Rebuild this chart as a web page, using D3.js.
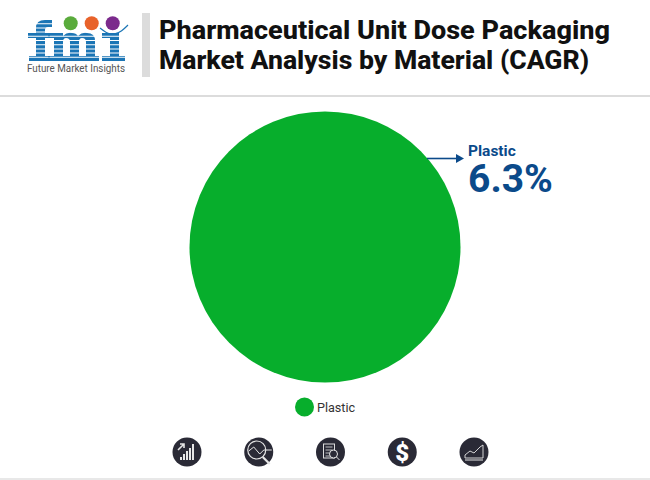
<!DOCTYPE html>
<html>
<head>
<meta charset="utf-8">
<script src="https://cdn.jsdelivr.net/npm/d3@7/dist/d3.min.js"></script>
<style>
html, body { margin: 0; padding: 0; background: #fff; }
svg { display: block; }
text { font-family: Roboto, sans-serif; }
</style>
</head>
<body>
<svg id="chart" width="650" height="480"></svg>
<script>
// chart data
const titleLines = ["Pharmaceutical Unit Dose Packaging", "Market Analysis by Material (CAGR)"];
const titleWidths = [451, 430];
const categories = ["Plastic"];
const shares = [100];
const cagrLabels = ["6.3%"];
const sliceColors = ["#07ae2c"];
const logoDots = ["#5aab3c", "#e8622a", "#7b2a8c"];
const iconNames = ["growth", "search", "report", "dollar", "area"];

const svg = d3.select("#chart");
const blue = "#0b4a8a";
const dark = "#2a2a36";
const grey = "#dcdcdc";

// header
svg.append("rect").attr("x", 142).attr("y", 13).attr("width", 8).attr("height", 64).attr("fill", grey);
svg.append("rect").attr("x", 0).attr("y", 95).attr("width", 650).attr("height", 2).attr("fill", grey);
svg.append("rect").attr("x", 0).attr("y", 478).attr("width", 650).attr("height", 2).attr("fill", "#e8e8e8");

svg.selectAll("text.title").data(titleLines).join("text")
    .attr("class", "title")
    .attr("x", 159)
    .attr("y", (d, i) => 39 + i * 30)
    .attr("font-size", 26)
    .attr("font-weight", 800)
    .attr("fill", "#111")
    .attr("textLength", (d, i) => titleWidths[i])
    .attr("lengthAdjust", "spacingAndGlyphs")
    .text(d => d);

// logo: block letters cut into horizontal stripes
const logoBlue = "#1b75b5";
const clip = svg.append("defs").append("clipPath").attr("id", "stripes");
d3.range(20, 62, 4.2).forEach(y => {
    clip.append("rect").attr("x", 20).attr("y", y).attr("width", 120).attr("height", 3.2);
});
const logo = svg.append("g");
const letters = logo.append("g").attr("clip-path", "url(#stripes)").attr("fill", logoBlue);
const letterPaths = [
    // f
    "M28,33 H36 V28 Q36,20 45,20 H52 V27 H48 Q45,27 45,30 V33 H50 V38 H45 V56 H50 V61 H29 V56 H36 V38 H28 Z",
    // m
    "M48,33 H63 V36 Q67,32 72,33 Q76,33 78,36 Q82,32 87,33 Q95,33 95,41 V56 H99 V61 H82 V56 H86 V42 Q86,38 82,38 Q79,38 79,42 V56 H83 V61 H66 V56 H70 V42 Q70,38 66,38 Q63,38 63,42 V56 H67 V61 H48 V56 H54 V38 H48 Z",
    // i
    "M102,33 H119 V56 H125 V61 H102 V56 H110 V38 H102 Z"
];
letters.selectAll("path").data(letterPaths).join("path").attr("d", d => d);

logo.selectAll("circle").data(logoDots).join("circle")
    .attr("cx", (d, i) => 70.7 + i * 21)
    .attr("cy", 23.3)
    .attr("r", 7)
    .attr("fill", d => d);
logo.append("path")
    .attr("d", d3.line().curve(d3.curveBasis)([[100, 28], [106, 33], [114, 35], [122, 31], [128, 25]]))
    .attr("fill", "none").attr("stroke", logoBlue).attr("stroke-width", 1.2);
logo.append("text")
    .attr("x", 27).attr("y", 72)
    .attr("font-size", 10)
    .attr("fill", "#555")
    .attr("textLength", 98)
    .attr("lengthAdjust", "spacingAndGlyphs")
    .text("Future Market Insights");

// pie
const pie = d3.pie().sort(null)(shares);
const arc = d3.arc().innerRadius(0).outerRadius(135.5);
svg.append("g").attr("transform", "translate(325,247)")
    .selectAll("path").data(pie).join("path")
    .attr("d", arc)
    .attr("fill", (d, i) => sliceColors[i]);

// callout
svg.append("line").attr("x1", 427).attr("y1", 158.5).attr("x2", 458).attr("y2", 158.5)
    .attr("stroke", blue).attr("stroke-width", 1.6);
svg.append("path").attr("d", "M456,154 L464,158.5 L456,163 Z").attr("fill", blue);
svg.append("text").attr("x", 468).attr("y", 156)
    .attr("font-size", 15.5).attr("font-weight", 700).attr("fill", blue)
    .text(categories[0]);
svg.append("text").attr("x", 468).attr("y", 192)
    .attr("font-size", 39).attr("font-weight", 700).attr("fill", blue)
    .text(cagrLabels[0]);

// legend
const legend = svg.append("g");
legend.selectAll("circle").data(categories).join("circle")
    .attr("cx", 304.5).attr("cy", 407).attr("r", 9.5)
    .attr("fill", (d, i) => sliceColors[i]);
legend.selectAll("text").data(categories).join("text")
    .attr("x", 317).attr("y", 412)
    .attr("font-size", 12.6).attr("fill", "#333")
    .text(d => d);

// footer icons
const iconX = d3.scalePoint().domain(iconNames).range([187, 474]);
const icons = svg.selectAll("g.icon").data(iconNames).join("g")
    .attr("class", "icon")
    .attr("transform", d => "translate(" + iconX(d) + ",452)");
icons.append("circle").attr("r", 14.5).attr("fill", dark);

icons.each(function (name) {
    const g = d3.select(this);
    const line = (d, w) => g.append("path").attr("d", d).attr("fill", "none").attr("stroke", "#e6e6e6").attr("stroke-width", w || 1);
    if (name === "growth") {
        [[-7, 3], [-4, 6], [-1, 9], [2, 12], [5, 16]].forEach(b => {
            g.append("rect").attr("x", b[0]).attr("y", 8 - b[1]).attr("width", 2).attr("height", b[1]).attr("fill", "#e6e6e6");
        });
        line("M-9,-2 L-3,-8 M-7,-8 L-3,-8 L-3,-4", 1.6);
    } else if (name === "search") {
        g.append("circle").attr("cx", -2).attr("cy", -2).attr("r", 9).attr("fill", "none").attr("stroke", "#e6e6e6").attr("stroke-width", 1.2);
        line("M-10,-1 L-5,-5 L1,2 L5,-2 L13,-2");
        line("M4,5 L11,12", 2.2);
    } else if (name === "report") {
        g.append("rect").attr("x", -7).attr("y", -8).attr("width", 11).attr("height", 14).attr("fill", "none").attr("stroke", "#ddd");
        line("M-5,-5 L2,-5 M-5,-2 L2,-2 M-5,1 L0,1 M-5,4 L0,4", 0.8);
        g.append("circle").attr("cx", 3).attr("cy", 2).attr("r", 4).attr("fill", dark).attr("stroke", "#e6e6e6");
        line("M6,5 L9,8");
    } else if (name === "dollar") {
        g.append("text").attr("text-anchor", "middle").attr("y", 8.5).attr("font-size", 24).attr("font-weight", 900)
            .attr("fill", "#fff").text("$");
    } else {
        line("M-9,8 L9,8");
        line("M-9,3 L-4,-1 L0,1 L6,-5 L9,-7 L9,6 L-9,6 Z", 0.9);
    }
});
</script>
</body>
</html>
